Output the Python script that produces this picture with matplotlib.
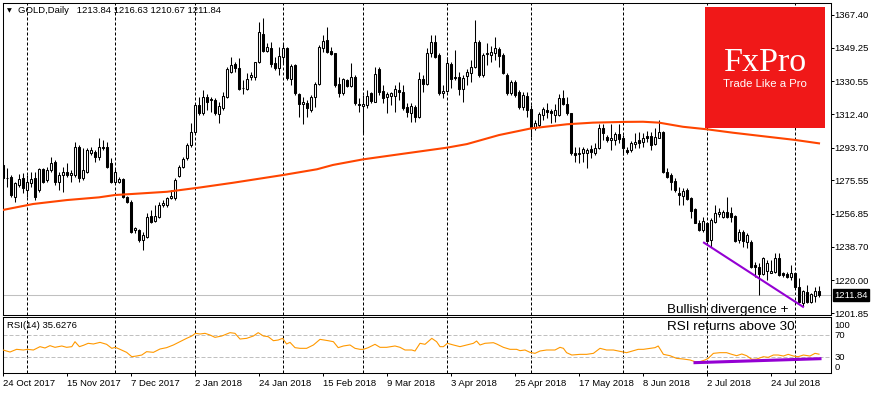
"""
GOLD daily candles with 200-day moving average and RSI(14),
MetaTrader style, with the divergence annotations.
"""

import matplotlib
matplotlib.use('Agg')
import matplotlib.pyplot as plt
import matplotlib.transforms as mtransforms
from matplotlib.patches import Rectangle
import numpy as np

# Data
# ----------------------------------------------------------------------------

opens = [
    1284.1, 1277.0, 1277.5, 1266.4, 1272.9, 1276.6, 1270.2, 1274.2, 1276.6, 1270.2,
    1281.6, 1275.7, 1281.3, 1285.9, 1274.8, 1278.5, 1280.3, 1278.5, 1278.5, 1294.2,
    1276.6, 1280.3, 1290.9, 1291.4, 1288.7, 1294.2, 1294.2, 1285.0, 1274.8, 1274.8,
    1276.1, 1266.4, 1263.7, 1247.9, 1247.9, 1242.4, 1244.2, 1255.7, 1253.1, 1255.4,
    1261.8, 1261.8, 1265.5, 1265.5, 1277.9, 1283.1, 1287.7, 1295.2, 1302.6, 1317.4,
    1312.8, 1322.0, 1320.5, 1320.2, 1312.2, 1315.9, 1322.0, 1335.5, 1340.0, 1337.8,
    1327.0, 1326.3, 1333.1, 1333.1, 1341.1, 1356.7, 1347.4, 1348.9, 1340.5, 1337.8,
    1344.2, 1349.2, 1331.8, 1339.6, 1323.3, 1317.8, 1318.3, 1314.6, 1322.0, 1328.9,
    1349.2, 1353.5, 1347.4, 1346.1, 1328.9, 1323.9, 1331.3, 1328.1, 1333.1, 1317.9,
    1316.8, 1317.4, 1323.9, 1319.2, 1337.4, 1325.2, 1321.6, 1322.6, 1322.6, 1325.7,
    1324.4, 1316.4, 1313.1, 1316.5, 1310.5, 1331.6, 1329.0, 1346.1, 1352.6, 1345.2,
    1324.2, 1325.3, 1340.2, 1333.1, 1332.8, 1326.1, 1333.5, 1335.0, 1338.7, 1352.6,
    1334.1, 1345.5, 1345.2, 1346.5, 1348.3, 1345.2, 1334.1, 1323.9, 1330.3, 1324.8,
    1316.5, 1322.4, 1315.0, 1304.4, 1306.3, 1311.8, 1314.6, 1314.1, 1311.8, 1311.8,
    1321.1, 1317.8, 1312.8, 1290.5, 1290.4, 1290.5, 1290.5, 1292.8, 1290.5, 1293.3,
    1304.4, 1299.8, 1297.9, 1297.9, 1301.1, 1298.9, 1292.4, 1292.4, 1295.5, 1297.9,
    1297.0, 1300.3, 1300.3, 1295.5, 1299.2, 1302.6, 1280.0, 1278.5, 1275.2, 1268.7,
    1266.8, 1270.2, 1265.5, 1259.4, 1252.0, 1247.9, 1252.0, 1242.4, 1252.2, 1256.6,
    1255.0, 1257.8, 1257.6, 1255.7, 1242.5, 1247.0, 1241.5, 1241.5, 1228.5, 1227.6,
    1223.5, 1225.3, 1224.2, 1224.8, 1232.2, 1223.9, 1223.3, 1222.0, 1223.9, 1216.5,
    1207.6, 1213.7, 1208.1, 1211.3, 1213.84]

highs = [
    1285.0, 1282.2, 1278.5, 1274.8, 1279.1, 1279.4, 1278.5, 1280.3, 1280.3, 1282.2,
    1282.2, 1283.1, 1288.7, 1286.8, 1280.3, 1283.1, 1285.0, 1281.3, 1297.0, 1295.1,
    1293.3, 1293.3, 1294.2, 1292.4, 1298.9, 1297.9, 1297.0, 1287.7, 1282.2, 1277.5,
    1276.6, 1267.0, 1264.6, 1249.8, 1248.3, 1247.0, 1257.2, 1259.1, 1261.8, 1263.7,
    1264.9, 1266.4, 1270.2, 1276.6, 1284.1, 1288.7, 1296.1, 1307.2, 1318.3, 1322.0,
    1325.7, 1323.5, 1322.0, 1321.1, 1318.9, 1324.4, 1338.7, 1344.2, 1341.5, 1343.3,
    1331.3, 1335.0, 1335.9, 1341.5, 1363.7, 1365.5, 1351.7, 1352.6, 1344.2, 1349.8,
    1351.6, 1349.8, 1340.0, 1340.0, 1323.9, 1322.0, 1320.2, 1322.9, 1330.4, 1350.7,
    1356.3, 1360.9, 1349.8, 1346.5, 1333.1, 1332.2, 1331.8, 1340.5, 1334.1, 1321.1,
    1322.9, 1325.7, 1324.8, 1338.7, 1338.7, 1328.5, 1324.4, 1324.8, 1328.5, 1330.4,
    1328.5, 1318.3, 1318.3, 1317.4, 1335.9, 1334.0, 1348.9, 1356.3, 1356.3, 1346.1,
    1328.5, 1344.2, 1341.5, 1348.0, 1335.9, 1334.0, 1337.2, 1342.4, 1364.6, 1353.5,
    1346.1, 1351.6, 1350.2, 1355.4, 1349.4, 1346.1, 1335.0, 1331.3, 1331.3, 1325.7,
    1324.8, 1324.8, 1317.4, 1309.1, 1313.7, 1316.5, 1318.3, 1315.2, 1317.8, 1323.3,
    1325.7, 1322.0, 1313.1, 1294.2, 1294.2, 1294.2, 1293.3, 1295.2, 1296.1, 1306.7,
    1306.7, 1300.7, 1306.7, 1302.6, 1306.7, 1300.7, 1294.2, 1297.4, 1301.6, 1302.6,
    1301.6, 1302.9, 1302.6, 1304.4, 1309.1, 1302.9, 1282.2, 1279.4, 1276.6, 1272.0,
    1271.1, 1271.1, 1266.4, 1260.0, 1253.5, 1255.4, 1252.6, 1254.4, 1261.8, 1260.0,
    1259.1, 1266.1, 1260.9, 1256.3, 1248.5, 1248.0, 1246.1, 1242.4, 1230.4, 1229.4,
    1233.1, 1231.3, 1231.3, 1235.3, 1235.3, 1224.8, 1224.8, 1228.5, 1224.2, 1221.1,
    1214.6, 1217.4, 1212.8, 1216.5, 1216.63]

lows = [
    1273.9, 1272.0, 1266.4, 1263.7, 1272.0, 1268.3, 1266.4, 1272.0, 1264.6, 1269.2,
    1273.9, 1274.8, 1280.3, 1273.0, 1270.2, 1269.2, 1277.5, 1274.8, 1277.5, 1274.8,
    1275.7, 1279.4, 1289.6, 1285.9, 1286.8, 1292.4, 1282.2, 1273.9, 1273.9, 1273.9,
    1265.5, 1262.7, 1246.1, 1246.1, 1241.5, 1236.8, 1243.3, 1251.6, 1252.6, 1254.8,
    1260.9, 1260.9, 1265.0, 1264.6, 1277.5, 1282.2, 1286.8, 1294.2, 1302.0, 1311.8,
    1311.8, 1314.6, 1313.7, 1311.8, 1307.2, 1314.6, 1321.1, 1335.0, 1335.9, 1325.7,
    1323.3, 1325.7, 1331.3, 1331.3, 1340.5, 1347.0, 1347.0, 1338.7, 1336.8, 1334.1,
    1340.5, 1331.3, 1328.5, 1323.0, 1310.9, 1306.7, 1310.9, 1313.7, 1316.4, 1328.5,
    1347.0, 1346.1, 1345.2, 1327.6, 1322.0, 1323.0, 1327.6, 1327.6, 1317.4, 1313.7,
    1301.7, 1315.5, 1318.3, 1318.9, 1323.0, 1318.3, 1312.8, 1317.4, 1313.7, 1320.2,
    1314.6, 1310.9, 1308.1, 1308.1, 1310.0, 1324.8, 1328.5, 1344.2, 1343.3, 1322.9,
    1321.1, 1324.8, 1326.6, 1331.3, 1322.9, 1319.2, 1328.5, 1330.3, 1337.8, 1333.1,
    1333.1, 1339.6, 1341.5, 1342.4, 1338.7, 1334.6, 1322.9, 1322.9, 1321.6, 1315.0,
    1314.6, 1310.5, 1299.8, 1303.5, 1305.4, 1309.1, 1310.0, 1307.2, 1308.1, 1311.5,
    1317.4, 1311.8, 1289.6, 1285.9, 1285.0, 1285.9, 1282.2, 1287.8, 1289.6, 1292.9,
    1297.9, 1296.6, 1292.4, 1295.2, 1296.1, 1289.6, 1290.0, 1291.5, 1293.3, 1293.3,
    1294.2, 1297.0, 1292.4, 1295.2, 1298.9, 1279.4, 1276.6, 1270.2, 1269.2, 1261.8,
    1261.8, 1264.6, 1254.4, 1251.6, 1247.6, 1247.0, 1241.5, 1238.7, 1252.0, 1255.4,
    1254.4, 1254.4, 1252.6, 1241.5, 1241.0, 1238.7, 1237.7, 1226.6, 1222.0, 1211.8,
    1222.9, 1220.2, 1223.9, 1223.9, 1222.4, 1222.0, 1221.1, 1220.2, 1215.5, 1207.2,
    1205.7, 1207.6, 1207.2, 1208.1, 1210.67]

closes = [
    1276.6, 1276.6, 1267.4, 1273.9, 1276.1, 1271.1, 1274.8, 1276.1, 1266.4, 1281.6,
    1274.8, 1281.3, 1285.0, 1274.8, 1278.5, 1280.3, 1278.5, 1279.4, 1294.2, 1276.6,
    1281.3, 1292.4, 1292.4, 1288.7, 1294.2, 1293.3, 1283.1, 1274.8, 1280.3, 1276.1,
    1266.4, 1263.7, 1247.0, 1248.8, 1242.4, 1245.2, 1255.4, 1252.6, 1255.7, 1261.8,
    1262.7, 1265.5, 1266.8, 1275.7, 1283.1, 1287.2, 1295.2, 1302.6, 1317.4, 1312.8,
    1322.0, 1319.2, 1320.2, 1312.8, 1317.0, 1322.4, 1337.4, 1339.6, 1337.8, 1326.3,
    1326.7, 1331.7, 1334.1, 1341.1, 1357.8, 1347.6, 1349.4, 1340.0, 1338.1, 1344.6,
    1348.9, 1332.6, 1339.1, 1323.9, 1318.0, 1318.9, 1315.9, 1322.0, 1328.9, 1349.8,
    1352.9, 1347.0, 1345.7, 1328.5, 1323.9, 1331.8, 1328.1, 1333.1, 1318.3, 1317.4,
    1317.9, 1322.4, 1319.8, 1334.6, 1324.8, 1321.5, 1323.3, 1323.9, 1326.3, 1324.4,
    1315.9, 1313.7, 1316.8, 1310.9, 1331.6, 1329.0, 1346.5, 1352.6, 1344.2, 1324.2,
    1325.3, 1340.9, 1331.6, 1332.2, 1326.1, 1332.6, 1335.9, 1338.7, 1352.6, 1334.1,
    1345.2, 1346.5, 1347.0, 1348.9, 1344.6, 1335.0, 1324.2, 1330.3, 1322.9, 1316.5,
    1322.9, 1314.6, 1304.4, 1307.2, 1312.4, 1315.0, 1313.7, 1312.8, 1314.6, 1321.1,
    1317.8, 1312.8, 1290.5, 1289.6, 1290.5, 1292.8, 1292.4, 1291.5, 1293.3, 1304.4,
    1301.6, 1297.9, 1298.9, 1301.1, 1298.5, 1293.3, 1291.5, 1296.1, 1297.0, 1296.1,
    1299.2, 1299.2, 1295.2, 1299.8, 1302.2, 1280.0, 1277.6, 1274.8, 1270.2, 1267.4,
    1269.6, 1265.0, 1258.7, 1252.0, 1247.9, 1252.9, 1242.0, 1253.5, 1257.2, 1258.1,
    1258.1, 1255.0, 1255.4, 1242.0, 1247.0, 1241.8, 1245.2, 1227.6, 1227.2, 1223.5,
    1232.2, 1229.4, 1225.3, 1232.2, 1222.9, 1222.9, 1222.0, 1224.2, 1216.5, 1208.1,
    1214.2, 1208.1, 1212.4, 1214.2, 1211.84]

# 200-period moving average, read at a set of bars
ma_bar = [0, 7.5, 16, 24, 28, 32.5, 41, 49, 57.5, 70, 78.5, 82.5, 90, 99, 111,
          116, 124, 132, 141, 147.5, 155, 160, 164, 170, 176, 182.5, 191, 198, 204]
ma_val = [1259.1, 1262.4, 1264.6, 1266.1, 1267.4, 1268.0, 1269.2, 1271.5, 1274.2,
          1278.5, 1281.7, 1284.1, 1287.2, 1290.0, 1293.7, 1295.7, 1300.7, 1304.4,
          1306.7, 1307.6, 1308.0, 1308.1, 1307.6, 1305.3, 1303.9, 1302.0, 1299.8,
          1298.0, 1296.1]

# RSI(14), read along the sub-window
rsi_bar = [0, 1.75, 3.4, 5.1, 6.1, 7.6, 9.25, 10.5, 11.75, 13, 14.7, 15.9, 17.2,
           18, 19.1, 20.1, 21.3, 22.6, 24.25, 25.9, 27.2, 28.1, 29.25, 30.9, 32.2,
           33.4, 34.7, 35.9, 37.6, 39.25, 40.9, 42.6, 44.25, 45.9, 47.2, 48.1,
           49.25, 50.5, 51.75, 53, 54.7, 56.75, 58, 59.25, 60.9, 62.6, 63.8, 65.1,
           66.3, 67.6, 68.8, 69.9, 70.9, 71.75, 73, 74.25, 75.9, 77.6, 79.25, 81.3,
           82.6, 83.8, 85.1, 86.75, 88, 89.25, 90.1, 91.3, 93, 94.25, 95.9, 98,
           99.25, 100.5, 102.2, 103, 104.25, 105.5, 107.2, 108.4, 109.25, 110.1,
           111.1, 112.6, 114.25, 115.9, 117.6, 118.4, 119.25, 120.5, 122.6, 123.4,
           125.1, 126.75, 128.4, 129.25, 130.5, 131.75, 133, 134.25, 135.9, 138,
           139.25, 140.1, 140.9, 142.2, 144.25, 145.9, 147.6, 149.25, 150.9, 152.6,
           154.7, 155.9, 157.6, 158.8, 160.1, 161.75, 163, 163.8, 165.1, 166.75,
           168.4, 170.1, 171.75, 173, 174.25, 175.5, 176.3, 177.6, 179.25, 180.9,
           182.2, 183.4, 184.7, 185.9, 187.2, 188.4, 190.1, 191.3, 192.6, 193.8,
           195.1, 196.3, 197.6, 198.8, 200.1, 201.75, 203, 204]
rsi_val = [43.1, 39.5, 44.3, 43.1, 44.3, 43.1, 49.1, 46.7, 50.9, 47.9, 50.3, 47.9,
           49.1, 58.0, 49.1, 51.5, 55.1, 53.9, 56.8, 53.3, 46.1, 47.9, 44.3, 38.9,
           31.1, 32.3, 34.1, 40.1, 38.9, 44.9, 47.3, 52.1, 58.0, 64.0, 68.2, 73.0,
           71.8, 73.0, 70.0, 65.8, 68.2, 74.2, 73.0, 62.8, 64.0, 68.2, 74.2, 68.2,
           67.0, 59.8, 61.0, 64.0, 53.9, 56.8, 47.3, 46.1, 46.1, 52.1, 62.2, 59.8,
           58.0, 47.3, 50.3, 52.1, 46.1, 44.3, 44.3, 47.3, 53.3, 47.9, 47.9, 50.3,
           47.9, 43.1, 43.1, 41.3, 55.1, 53.3, 64.0, 58.0, 49.1, 49.1, 55.1, 52.1,
           49.1, 52.1, 55.1, 59.2, 52.1, 55.1, 56.2, 53.9, 47.9, 44.3, 44.3, 41.9,
           43.1, 38.9, 37.1, 41.3, 43.1, 43.1, 47.9, 46.1, 38.3, 34.1, 35.3, 35.3,
           37.1, 46.1, 43.1, 43.1, 40.1, 38.3, 41.9, 44.3, 44.3, 46.1, 47.3, 50.3,
           35.3, 32.9, 28.1, 26.9, 25.2, 22.2, 22.2, 25.2, 28.1, 37.1, 38.3, 38.3,
           35.3, 32.9, 35.9, 32.9, 26.4, 26.9, 31.1, 29.9, 34.1, 34.1, 32.3, 35.3,
           32.3, 31.1, 34.1, 32.3, 37.1, 35.6]

# Divergence lines: (bar, value) end points
div_price_bar = [175.25, 200]
div_price_val = [1240.9, 1205.3]
div_rsi_bar = [173, 204.25]
div_rsi_val = [20.4, 27.5]

# Time axis
month_start_bars = [6, 28, 48, 70, 90, 111, 132, 155, 176, 198]
date_bars = [0, 16, 32, 48, 64, 80, 96, 112, 128, 144, 160, 176, 192]
date_labels = ['24 Oct 2017', '15 Nov 2017', '7 Dec 2017', '2 Jan 2018',
               '24 Jan 2018', '15 Feb 2018', '9 Mar 2018', '3 Apr 2018',
               '25 Apr 2018', '17 May 2018', '8 Jun 2018', '2 Jul 2018',
               '24 Jul 2018']

price_ticks = [1367.40, 1349.25, 1330.55, 1312.40, 1293.70, 1275.55, 1256.85,
               1238.70, 1220.00, 1201.85]
last_price = 1211.84

# Figure
# ----------------------------------------------------------------------------

plt.rcParams['font.family'] = 'Liberation Sans'
small = 6.8

W, H = 873, 395
fig = plt.figure(figsize=(W / 100, H / 100), dpi=100)
fig.patch.set_facecolor('white')


def box(left, top, right, bottom):
    return [left / W, 1 - bottom / H, (right - left) / W, (bottom - top) / H]


ax = fig.add_axes(box(2.5, 2.7, 830.5, 314.5))
ax_rsi = fig.add_axes(box(2.5, 316.5, 830.5, 373.3))

xlim = (-0.125, 206.875)
for a in (ax, ax_rsi):
    a.set_xlim(*xlim)
    for s in a.spines.values():
        s.set_linewidth(0.75)
        s.set_color('black')
    for b in month_start_bars:
        a.axvline(b, color='black', lw=0.72, ls=(0, (3, 2)), zorder=1)

ax.set_ylim(1201.02, 1374.23)
ax_rsi.set_ylim(1.3, 103.2)

# Candles
x = np.arange(len(closes))
o = np.array(opens)
c = np.array(closes)
up = c > o
ax.axhline(last_price, color='#c0c0c0', lw=0.75, zorder=1.5)
ax.vlines(x, lows, highs, color='black', lw=0.75, zorder=3)
ax.bar(x, np.maximum(np.abs(c - o), 0.12), bottom=np.minimum(o, c), width=0.55,
       color=np.where(up, 'white', 'black'), edgecolor='black', linewidth=0.75,
       zorder=4)

ax.plot(ma_bar, ma_val, color='#ff4500', lw=1.5, zorder=5)
ax.plot(div_price_bar, div_price_val, color='#9400d3', lw=1.5, zorder=6)

# Price axis on the right
ax.set_xticks([])
ax.yaxis.tick_right()
ax.set_yticks(price_ticks)
ax.set_yticklabels(['%.2f' % v for v in price_ticks])
ax.tick_params(axis='y', direction='out', length=2.2, width=0.72, pad=0.8,
               labelsize=small, colors='black')
yblend = mtransforms.blended_transform_factory(ax.transAxes, ax.transData)
ax.text(1.0047, last_price, '%.2f' % last_price, transform=yblend, color='white',
        fontsize=small, va='center', ha='left', zorder=10,
        bbox=dict(boxstyle='square,pad=0.15', fc='black', ec='black'))

# RSI window
ax_rsi.axhline(70, color='#c0c0c0', lw=0.72, ls=(0, (4, 2)), zorder=1)
ax_rsi.axhline(30, color='#c0c0c0', lw=0.72, ls=(0, (4, 2)), zorder=1)
ax_rsi.plot(rsi_bar, rsi_val, color='#ff9900', lw=0.8, zorder=3)
ax_rsi.plot(div_rsi_bar, div_rsi_val, color='#9400d3', lw=2.2, zorder=4)
ax_rsi.set_yticks([])
ax_rsi.set_xticks(date_bars)
ax_rsi.set_xticklabels([])
ax_rsi.tick_params(axis='x', direction='out', length=2.5, width=0.72)
for lab, ypx in [('100', 325), ('70', 335), ('30', 357.3), ('0', 367.3)]:
    fig.text(834.5 / W, 1 - ypx / H, lab, fontsize=small, va='center', ha='left')

xblend = mtransforms.blended_transform_factory(ax_rsi.transData, ax_rsi.transAxes)
for b, lab in zip(date_bars, date_labels):
    ax_rsi.text(b - 0.1, -0.172, lab, transform=xblend, fontsize=small,
                va='center', ha='left')

# Titles and notes
fig.text(9.5 / W, 1 - 10.5 / H, '\u25bc', fontsize=4.5, family='DejaVu Sans',
         va='center', ha='center')
fig.text(18 / W, 1 - 10.5 / H, 'GOLD,Daily   1213.84 1216.63 1210.67 1211.84',
         fontsize=small, va='center', ha='left')
fig.text(7.3 / W, 1 - 326 / H, 'RSI(14) 35.6276', fontsize=small,
         va='center', ha='left')
fig.text(667 / W, 1 - 312.5 / H, 'Bullish divergence +', fontsize=9.7,
         va='baseline', ha='left', zorder=10)
fig.text(667 / W, 1 - 330.5 / H, 'RSI returns above 30', fontsize=9.7,
         va='baseline', ha='left', zorder=10)

# FxPro badge
fig.patches.append(Rectangle((705 / W, 1 - 127.7 / H), 120 / W, 120.4 / H,
                             transform=fig.transFigure, facecolor='#f01818',
                             edgecolor='none', zorder=20))
fig.text(765.3 / W, 1 - 71 / H, 'FxPro', family='Liberation Serif',
         fontsize=24.5, color='white', va='baseline', ha='center', zorder=21)
fig.text(765.3 / W, 1 - 87 / H, 'Trade Like a Pro', fontsize=8.2,
         color='white', va='baseline', ha='center', zorder=21)

fig.savefig('out.png', dpi=100)
